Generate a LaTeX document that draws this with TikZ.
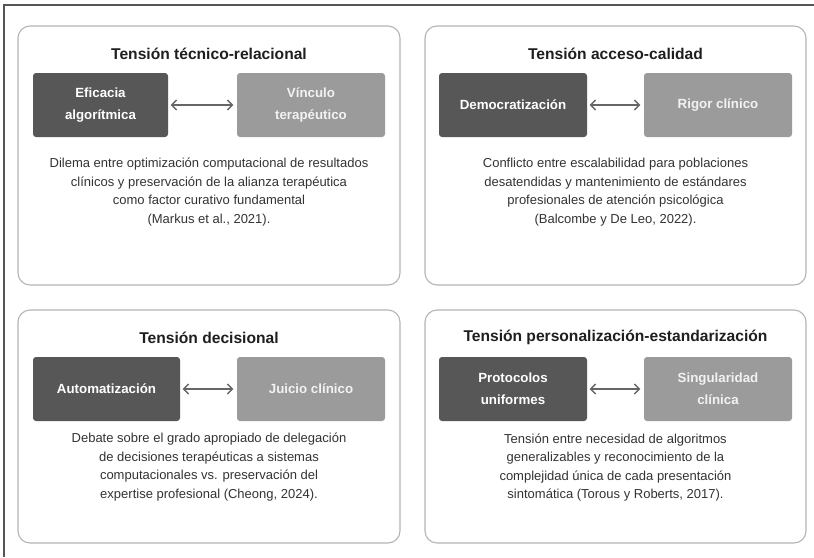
\documentclass[tikz,border=0pt]{standalone}
\usepackage{fontspec}
\setmainfont{Liberation Sans}
\usetikzlibrary{arrows.meta}
\definecolor{darkbox}{HTML}{575757}
\definecolor{lightbox}{HTML}{9B9B9B}
\definecolor{framec}{HTML}{555555}
\definecolor{panelc}{HTML}{B4B4B4}
\definecolor{descc}{HTML}{333333}
\definecolor{arrowc}{HTML}{666666}
\tikzset{
  panel/.style={draw=panelc, line width=1.1pt, rounded corners=12pt, fill=white},
  paneltitle/.style={font=\fontsize{15.6}{18}\selectfont\bfseries, text=black!88},
  darkbox/.style={fill=darkbox, rounded corners=3pt, text=white, font=\fontsize{13.3}{22}\selectfont\bfseries, align=center, inner sep=0pt},
  lightbox/.style={fill=lightbox, rounded corners=3pt, text=white!95!black, font=\fontsize{13.3}{22}\selectfont\bfseries, align=center, inner sep=0pt},
  desc/.style={font=\fontsize{13}{18.6}\selectfont, text=descc, align=center},
  tensarrow/.style={{Straight Barb[length=5pt,width=10pt]}-{Straight Barb[length=5pt,width=10pt]}, draw=arrowc, line width=1.4pt, shorten <=2.5pt, shorten >=3.5pt},
  frameline/.style={draw=framec, line width=1.6pt}
}
\begin{document}
\begin{tikzpicture}[x=1pt,y=-1pt]
\useasboundingbox (0,0) rectangle (814,557);
% outer frame (top and left only)
\coordinate (fa) at (814,5);
\coordinate (fb) at (4,5);
\coordinate (fc) at (4,557);
\draw[frameline] (fa) -- (fb) -- (fc);

% panels
\node[panel, minimum width=382pt, minimum height=259pt] (p1) at (209,155.5) {};
\node[panel, minimum width=381pt, minimum height=259pt] (p2) at (615.5,155.5) {};
\node[panel, minimum width=382pt, minimum height=233pt] (p3) at (209,426.5) {};
\node[panel, minimum width=381pt, minimum height=233pt] (p4) at (615.5,426.5) {};

% panel 1
\node[paneltitle] (t1) at (209,53.5) {Tensión técnico-relacional};
\node[darkbox, minimum width=135pt, minimum height=64pt] (l1) at (100.5,105) {Eficacia\\algorítmica};
\node[lightbox, minimum width=148pt, minimum height=64pt] (r1) at (311,105) {Vínculo\\terapéutico};
\draw[tensarrow] (l1.east) -- (r1.west);
\node[desc] (d1) at (209,192) {Dilema entre optimización computacional de resultados\\clínicos y preservación de la alianza terapéutica\\como factor curativo fundamental\\(Markus et al., 2021).};

% panel 2
\node[paneltitle] (t2) at (615.5,53.5) {Tensión acceso-calidad};
\node[darkbox, minimum width=148pt, minimum height=64pt] (l2) at (513,105) {Democratización};
\node[lightbox, minimum width=148pt, minimum height=64pt] (r2) at (718,105) {Rigor clínico};
\draw[tensarrow] (l2.east) -- (r2.west);
\node[desc] (d2) at (615.5,192) {Conflicto entre escalabilidad para poblaciones\\desatendidas y mantenimiento de estándares\\profesionales de atención psicológica\\(Balcombe y De Leo, 2022).};

% panel 3
\node[paneltitle] (t3) at (209,337.5) {Tensión decisional};
\node[darkbox, minimum width=147pt, minimum height=64pt] (l3) at (106.5,389) {Automatización};
\node[lightbox, minimum width=148pt, minimum height=64pt] (r3) at (311,389) {Juicio clínico};
\draw[tensarrow] (l3.east) -- (r3.west);
\node[desc] (d3) at (209,467) {Debate sobre el grado apropiado de delegación\\de decisiones terapéuticas a sistemas\\computacionales vs. preservación del\\expertise profesional (Cheong, 2024).};

% panel 4
\node[paneltitle] (t4) at (615.5,337.5) {Tensión personalización-estandarización};
\node[darkbox, minimum width=148pt, minimum height=64pt] (l4) at (513,389) {Protocolos\\uniformes};
\node[lightbox, minimum width=148pt, minimum height=64pt] (r4) at (718,389) {Singularidad\\clínica};
\draw[tensarrow] (l4.east) -- (r4.west);
\node[desc] (d4) at (615.5,467.5) {Tensión entre necesidad de algoritmos\\generalizables y reconocimiento de la\\complejidad única de cada presentación\\sintomática (Torous y Roberts, 2017).};
\end{tikzpicture}
\end{document}
